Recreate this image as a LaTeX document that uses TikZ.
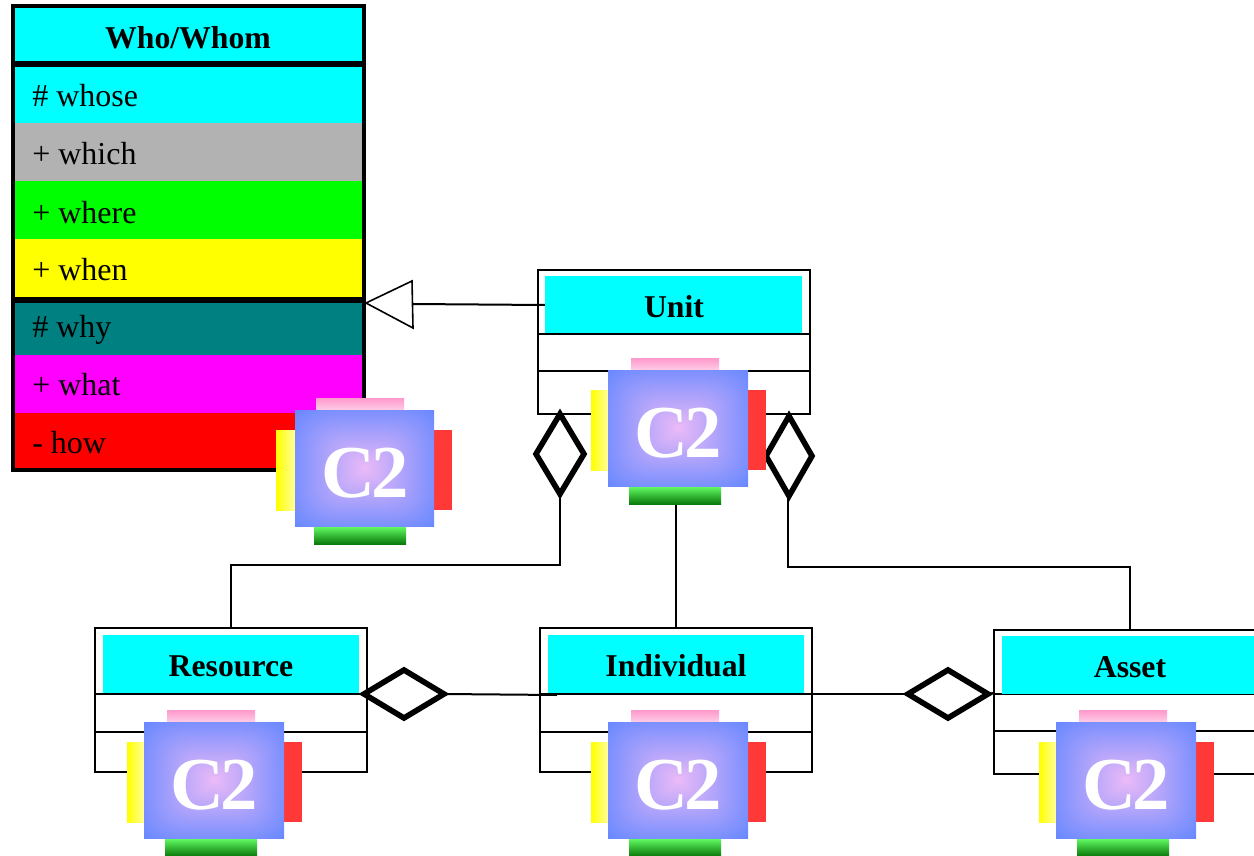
\documentclass[tikz,border=0pt]{standalone}
\usepackage{fontspec}
\setmainfont{Liberation Serif}
\usetikzlibrary{shapes.geometric}
\definecolor{ctcyan}{HTML}{00FFFF}
\definecolor{ctgray}{HTML}{B2B2B2}
\definecolor{ctgreen}{HTML}{00FF00}
\definecolor{ctyellow}{HTML}{FFFF00}
\definecolor{ctteal}{HTML}{008080}
\definecolor{ctmagenta}{HTML}{FF00FF}
\definecolor{ctred}{HTML}{FF0000}
\definecolor{icored}{HTML}{FF3838}
\definecolor{pinktop}{HTML}{FF99CC}
\definecolor{pinkbot}{HTML}{FFCCE6}
\definecolor{yelright}{HTML}{FFFF99}
\definecolor{gtop}{HTML}{66FF66}
\definecolor{gmid}{HTML}{50D850}
\definecolor{gbot}{HTML}{0A7A0A}
\pgfdeclarefunctionalshading{ctwoglow}{\pgfpoint{-50bp}{-50bp}}{\pgfpoint{50bp}{50bp}}{}{
  abs 30 div dup mul dup mul exch abs 30 div dup mul dup mul add sqrt sqrt
  dup 1 gt {pop 1} if
  dup dup
  -0.52 mul 0.92 add
  3 1 roll
  -0.20 mul 0.73 add
  exch
  0.03 mul 0.97 add
}
\tikzset{
  px/.style={x=0.75pt,y=-0.75pt},
  plain/.style={rectangle,inner sep=0pt,outer sep=0pt},
  classbox/.style={plain,draw=black,fill=white,line width=1.5pt},
  whoframe/.style={plain,draw=black,line width=3pt},
  headfill/.style={plain,fill=ctcyan},
  divider/.style={draw=black,line width=1.5pt},
  headtxt/.style={inner sep=0pt,anchor=base,font=\fontsize{23.8pt}{26pt}\selectfont\bfseries},
  rowtxt/.style={inner sep=0pt,anchor=base west,font=\fontsize{24pt}{26pt}\selectfont},
  ctwotxt/.style={inner sep=0pt,anchor=base,text=white,font=\fontsize{56pt}{60pt}\selectfont\bfseries},
  conn/.style={draw=black,line width=1.5pt},
  aggr/.style={diamond,draw=black,fill=white,line width=4.2pt,inner sep=0pt,outer sep=0pt,miter limit=10},
  gen/.style={draw=black,fill=white,line width=1.2pt,line join=miter},
}
% name, x1, y1, x2, y2, style
\newcommand\bx[6]{\node[#6,minimum width={((#4)-(#2))*0.75pt},minimum height={((#5)-(#3))*0.75pt}] (#1) at ({((#2)+(#4))/2},{((#3)+(#5))/2}) {};}
% name, top, bottom, colour, baseline, text
\newcommand\whorow[6]{\bx{#1}{15}{#2}{362}{#3}{plain,fill=#4}\node[rowtxt] (#1txt) at (32,#5) {#6};}
% name, x of blue square, y of blue square, shift of the side pieces
\newcommand\ctwoicon[4]{%
  \bx{#1p}{#2+23+(#4)}{#3-12}{#2+111+(#4)}{#3}{plain,top color=pinktop,bottom color=pinkbot}
  \bx{#1y}{#2-17+(#4)}{#3+20}{#2}{#3+100}{plain,left color=ctyellow,right color=yelright}
  \bx{#1r}{#2+140+0.5*(#4)}{#3+20}{#2+158+0.5*(#4)}{#3+100}{plain,fill=icored}
  \bx{#1g}{#2+21+(#4)}{#3+116}{#2+113+(#4)}{#3+134}{plain,top color=gtop,middle color=gmid,bottom color=gbot}
  \bx{#1}{#2}{#3}{#2+140+0.5*(#4)}{#3+116}{plain,shading=ctwoglow}
  \node[ctwotxt] (#1t) at ({#2+70},{#3+87}) {C\kern-0.045em 2};
}
\begin{document}
\begin{tikzpicture}[px]
\useasboundingbox (0,0) rectangle (1254,856);
\clip (0,0) rectangle (1254,856);
% Who/Whom
\bx{whohead}{15}{8}{362}{62}{headfill}
\node[headtxt] (whohead txt) at (188,49) {Who/Whom};
\whorow{whose}{67}{123}{ctcyan}{107}{\# whose}
\whorow{which}{123}{181}{ctgray}{165}{+ which}
\whorow{where}{181}{239}{ctgreen}{223}{+ where}
\whorow{when}{239}{297}{ctyellow}{280}{+ when}
\whorow{why}{303}{355}{ctteal}{337}{\# why}
\whorow{what}{355}{413}{ctmagenta}{395}{+ what}
\whorow{how}{413}{469}{ctred}{453}{- how}
\bx{who}{12.5}{6}{364}{470}{whoframe}
\draw[line width=4.5pt] (who.west |- 0,64) -- (who.east |- 0,64);
\draw[line width=4.5pt] (who.west |- 0,300) -- (who.east |- 0,300);
% class boxes
\bx{unit}{537.5}{270}{810}{414}{classbox}
\bx{res}{95}{628}{367}{772}{classbox}
\bx{ind}{540}{628}{812}{772}{classbox}
\bx{asset}{993.5}{630}{1290}{774}{classbox}
\draw[divider] (unit.west |- 0,333.5) -- (unit.east |- 0,333.5);
\draw[divider] (unit.west |- 0,370.5) -- (unit.east |- 0,370.5);
\draw[divider] (res.west |- 0,694) -- (res.east |- 0,694);
\draw[divider] (res.west |- 0,731.5) -- (res.east |- 0,731.5);
\draw[divider] (ind.west |- 0,694) -- (ind.east |- 0,694);
\draw[divider] (ind.west |- 0,731.5) -- (ind.east |- 0,731.5);
\draw[divider] (asset.west |- 0,694) -- (asset.east |- 0,694);
\draw[divider] (asset.west |- 0,730.5) -- (asset.east |- 0,730.5);
% aggregation diamonds
\node[aggr,minimum width=48*0.75pt,minimum height=80*0.75pt] (dl) at (560,454) {};
\node[aggr,minimum width=46*0.75pt,minimum height=80*0.75pt] (dr) at (789,456) {};
\node[aggr,minimum width=80*0.75pt,minimum height=48*0.75pt] (dres) at (404,694) {};
\node[aggr,minimum width=80*0.75pt,minimum height=48*0.75pt] (dind) at (948,694) {};
% generalisation
\coordinate (tip) at (366,303);
\coordinate (bu) at (412,281);
\coordinate (bl) at (413,328);
\coordinate (bm) at (412.5,304);
\draw[gen] (tip) -- (bu) -- (bl) -- cycle;
% connectors
\bx{unithead}{545}{276}{802}{334}{plain}
\draw[conn] (bm) -- (unithead.west);
\draw[conn] (dl.south) |- (res.north |- 0,565) -- (res.north);
\draw[conn] (ind.north |- unit.south) -- (ind.north);
\draw[conn] (dr.south -| 788,0) |- (1130,567) coordinate (assettop) -- (assettop |- asset.north);
\coordinate (indl) at (557,695);
\coordinate (indr) at (812,694);
\coordinate (assl) at (993,693);
\draw[conn] (dres.east) -- (indl);
\draw[conn] (indr) -- (dind.west);
\draw[conn] (dind.east) -- (assl);
% class heads
\bx{unitfill}{545}{276}{802}{333}{headfill}
\bx{resfill}{103}{635}{359}{693}{headfill}
\bx{indfill}{548}{635}{804}{693}{headfill}
\bx{assetfill}{1002}{636}{1290}{694}{headfill}
\node[headtxt] (unit txt) at (674,317) {Unit};
\node[headtxt] (res txt) at (231,676) {Resource};
\node[headtxt] (ind txt) at (676,676) {Individual};
\node[headtxt] (asset txt) at (1130,677) {Asset};
% icons
\ctwoicon{iw}{295}{410}{-2}
\ctwoicon{iu}{608}{370}{0}
\ctwoicon{ir}{144}{722}{0}
\ctwoicon{ii}{608}{722}{0}
\ctwoicon{ia}{1056}{722}{0}
\end{tikzpicture}
\end{document}
